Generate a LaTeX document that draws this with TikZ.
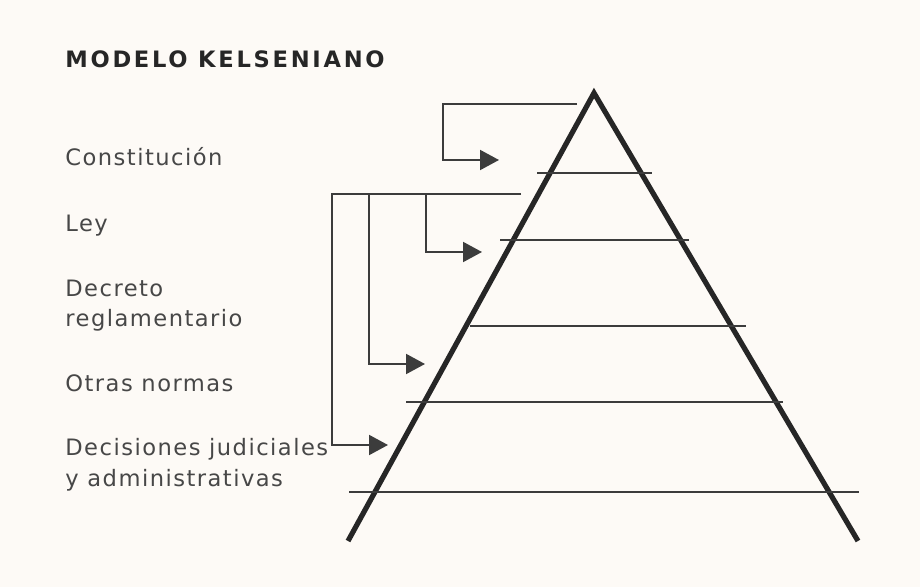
\documentclass[tikz,border=0pt]{standalone}
\usepackage{fontspec}
\setmainfont{DejaVu Sans}[LetterSpace=6.5]
\newfontfamily\titlefont{DejaVu Sans}[LetterSpace=12]
\usepackage{xcolor}
\usepackage{tikz}
\usetikzlibrary{arrows.meta,positioning}
\definecolor{paper}{RGB}{253,250,246}
\definecolor{ink}{RGB}{38,38,38}
\tikzset{
  heading/.style={
    anchor=base west, inner sep=0pt, text=ink,
    font=\titlefont\bfseries\fontsize{11.3}{13}\selectfont
  },
  levellabel/.style={
    anchor=base west, inner sep=0pt, text=ink!85, align=left,
    font=\fontsize{11.3}{15.2}\selectfont
  },
  pyramid/.style={draw=ink, line width=2.6pt},
  layer/.style={draw=ink!90, line width=1pt},
  pointer/.style={-{Triangle[length=9.5pt,width=10pt]}, draw=ink!90, line width=1pt},
}

\begin{document}
\begin{tikzpicture}[x=0.5pt,y=-0.5pt]

  % Background and frame
  \fill[paper] (0,0) rectangle (920,587);
  \useasboundingbox (0,0) rectangle (920,587);

  % Title
  \node[heading] (title) at (65,68) {MODELO KELSENIANO};

  % Level labels (two-line ones sit on their last baseline)
  \node[levellabel] (const)   at (65,166) {Constitución};
  \node[levellabel] (ley)     at (65,232) {Ley};
  \node[levellabel] (decreto) at (65,327) {Decreto\\reglamentario};
  \node[levellabel] (otras)   at (65,391) {Otras normas};
  \node[levellabel] (decis)   at (65,486) {Decisiones judiciales\\y administrativas};

  % Pyramid
  \coordinate (apex)  at (594,93);
  \coordinate (footL) at (348,541);
  \coordinate (footR) at (858,541);
  \draw[pyramid] (footL) -- (apex) -- (footR);

  % Layer lines
  \foreach \y/\xa/\xb in {173/537/652, 240/500/689, 326/470/746,
                          402/406/783, 492/349/859}
    \draw[layer] (\xa,\y) -- (\xb,\y);

  % Connector from the apex
  \coordinate (aStart)  at (577,104);
  \coordinate (aCorner) at (443,104);
  \coordinate (aTip)    at (499,160);
  \draw[pointer] (aStart) -- (aCorner) |- (aTip);

  % Connector tree below
  \coordinate (bStart)  at (521,194);
  \coordinate (bCorner) at (332,194);
  \coordinate (bTip1)   at (388,445);
  \draw[pointer] (bStart) -- (bCorner) |- (bTip1);

  \coordinate (bDrop2) at (369,194);
  \coordinate (bTip2)  at (425,364);
  \draw[pointer] (bDrop2) |- (bTip2);

  \coordinate (bDrop3) at (426,194);
  \coordinate (bTip3)  at (482,252);
  \draw[pointer] (bDrop3) |- (bTip3);

\end{tikzpicture}
\end{document}
